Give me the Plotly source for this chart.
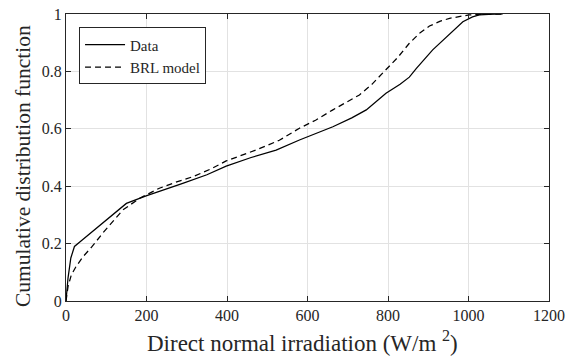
import plotly.graph_objects as go

data_x = [0, 5, 12, 21, 38, 60, 91, 120, 150, 199, 250, 290, 350, 398, 460, 522, 580, 620, 663, 710, 746, 795, 830, 853, 870, 911, 961, 986, 1010, 1027, 1050, 1085]
data_y = [0, 0.08, 0.15, 0.19, 0.21, 0.235, 0.27, 0.305, 0.34, 0.366, 0.39, 0.41, 0.44, 0.47, 0.5, 0.526, 0.561, 0.582, 0.607, 0.638, 0.666, 0.724, 0.755, 0.78, 0.81, 0.875, 0.938, 0.973, 0.99, 0.997, 0.999, 1.0]

brl_x = [0, 5, 13, 25, 42, 65, 91, 115, 141, 183, 232, 275, 315, 360, 398, 472, 530, 580, 620, 663, 729, 760, 795, 825, 853, 880, 903, 930, 953, 1002, 1040, 1085]
brl_y = [0, 0.05, 0.09, 0.12, 0.154, 0.19, 0.236, 0.275, 0.317, 0.358, 0.393, 0.415, 0.433, 0.46, 0.488, 0.526, 0.56, 0.602, 0.63, 0.666, 0.718, 0.755, 0.805, 0.85, 0.898, 0.935, 0.958, 0.975, 0.985, 0.997, 0.999, 1.0]

x_ticks = [0, 200, 400, 600, 800, 1000, 1200]
y_ticks = [0, 0.2, 0.4, 0.6, 0.8, 1]
y_tick_text = ["0", "0.2", "0.4", "0.6", "0.8", "1"]

x_title = "Direct normal irradiation (W/m <sup>2</sup>)"
y_title = "Cumulative distribution function"

SERIF = "Liberation Serif, Times New Roman, serif"

fig = go.Figure()
fig.add_trace(go.Scatter(x=data_x, y=data_y, mode="lines", name="Data",
                         line=dict(color="black", width=1.25)))
fig.add_trace(go.Scatter(x=brl_x, y=brl_y, mode="lines", name="BRL model",
                         line=dict(color="black", width=1.25, dash="6px,4px")))

axis_common = dict(
    showline=True, mirror="ticks", linecolor="#262626", linewidth=1,
    ticks="inside", ticklen=5, tickcolor="#262626",
    showgrid=True, gridcolor="#e2e2e2", gridwidth=1, zeroline=False,
    automargin=False,
    tickfont=dict(family=SERIF, size=16, color="#262626"),
)

fig.update_layout(
    width=571, height=360,
    margin=dict(l=66, r=22, t=14, b=59),
    paper_bgcolor="white", plot_bgcolor="white",
    font=dict(family=SERIF, color="#262626"),
    xaxis=dict(range=[0, 1200], tickvals=x_ticks, **axis_common),
    yaxis=dict(range=[0, 1], tickvals=y_ticks, ticktext=y_tick_text, **axis_common),
    legend=dict(x=0.027, y=0.953, xanchor="left", yanchor="top",
                bgcolor="white", bordercolor="#262626", borderwidth=1,
                font=dict(family=SERIF, size=15, color="#262626"),
                tracegroupgap=0, itemwidth=40),
    showlegend=True,
    annotations=[
        dict(text=x_title, xref="paper", yref="paper", x=0.49, y=0,
             xanchor="center", yanchor="top", yshift=-24, showarrow=False,
             font=dict(family=SERIF, size=23, color="#262626")),
        dict(text=y_title, xref="paper", yref="paper", x=0, y=0.47,
             xanchor="center", yanchor="middle", xshift=-43, textangle=-90,
             showarrow=False,
             font=dict(family=SERIF, size=21.5, color="#262626")),
    ],
)

fig.write_html(
    "out.html",
    config={"displayModeBar": False},
    post_script="document.body.style.margin='0';document.body.style.padding='0';",
)
